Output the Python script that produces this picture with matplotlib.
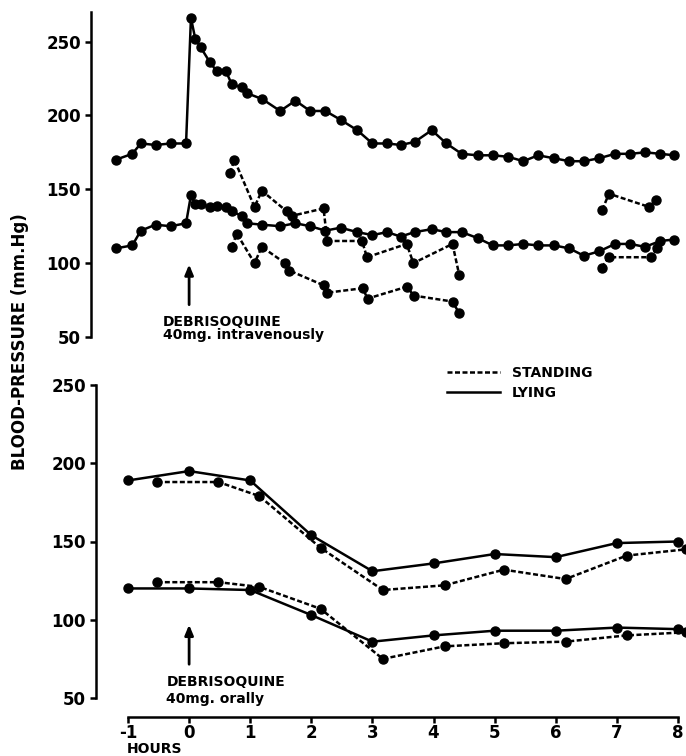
import numpy as np
import matplotlib
matplotlib.use('Agg')
import matplotlib.pyplot as plt
from matplotlib.lines import Line2D
import matplotlib.transforms as mtransforms

plt.rcParams['font.family'] = 'DejaVu Sans'
plt.rcParams['font.weight'] = 'bold'
plt.rcParams['axes.unicode_minus'] = False

# ---- top panel: debrisoquine intravenously (hours) ----
iv_time = [-1.2, -0.93, -0.79, -0.55, -0.3, -0.05, 0.03, 0.1, 0.19, 0.34, 0.45, 0.6,
           0.7, 0.86, 0.95, 1.2, 1.49, 1.74, 1.98, 2.23, 2.48, 2.75, 3.0, 3.24, 3.46,
           3.69, 3.97, 4.21, 4.46, 4.72, 4.97, 5.22, 5.47, 5.71, 5.97, 6.22, 6.46, 6.71,
           6.97, 7.22, 7.46, 7.71, 7.94]
iv_lying_sys = [170, 174, 181, 180, 181, 181, 266, 252, 246, 236, 230, 230, 221, 219, 215,
                211, 203, 210, 203, 203, 197, 190, 181, 181, 180, 182, 190, 181, 174, 173,
                173, 172, 169, 173, 171, 169, 169, 171, 174, 174, 175, 174, 173]
iv_lying_dia = [110, 112, 122, 126, 125, 127, 146, 140, 140, 138, 139, 138, 135, 132, 127,
                126, 125, 127, 125, 122, 124, 121, 119, 121, 118, 121, 123, 121, 121, 117,
                112, 112, 113, 112, 112, 110, 105, 108, 113, 113, 111, 115, 116]

iv_stand_sys_t = [0.67, 0.74, 1.07, 1.19, 1.6, 1.68, 2.2, 2.26, 2.83, 2.91, 3.56, 3.67, 4.31, 4.42]
iv_stand_sys = [161, 170, 138, 149, 135, 132, 137, 115, 115, 104, 113, 100, 113, 92]
iv_stand_dia_t = [0.7, 0.78, 1.07, 1.19, 1.57, 1.64, 2.2, 2.26, 2.84, 2.92, 3.56, 3.68, 4.31, 4.42]
iv_stand_dia = [111, 120, 100, 111, 100, 95, 85, 80, 83, 76, 84, 78, 74, 66]

iv_late_sys_t = [6.76, 6.87, 7.53, 7.64]
iv_late_sys = [136, 147, 138, 143]
iv_late_dia_t = [6.75, 6.87, 7.55, 7.66]
iv_late_dia = [97, 104, 104, 110]

# ---- bottom panel: debrisoquine orally ----
or_lying_t = [-1, 0, 1, 2, 3, 4, 5, 6, 7, 8]
or_lying_sys = [189, 195, 189, 154, 131, 136, 142, 140, 149, 150]
or_lying_dia = [120, 120, 119, 103, 86, 90, 93, 93, 95, 94]
or_stand_t = [-0.52, 0.48, 1.15, 2.15, 3.17, 4.18, 5.15, 6.16, 7.16, 8.13]
or_stand_sys = [188, 188, 179, 146, 119, 122, 132, 126, 141, 145]
or_stand_dia = [124, 124, 121, 107, 75, 83, 85, 86, 90, 92]

W, H = 686, 756
fig = plt.figure(figsize=(W / 100, H / 100), dpi=100)
px = 72 / 100  # points per pixel

lw = 1.8
ms = 6.5
dash = (2, 1)
k = 'black'

def solid(ax, x, y):
    ax.plot(x, y, color=k, lw=lw, marker='o', ms=ms, clip_on=False)

def dashed(ax, x, y):
    ax.plot(x, y, color=k, lw=lw, marker='o', ms=ms, ls='--', dashes=dash, clip_on=False)

# x mapping: -1 at px 128, 8 at px 678
px_per_h = (678 - 128) / 9.0

# top axes
ax1 = fig.add_axes([91 / W, (H - 337) / H, (W - 91) / W, 325 / H])
ax1.set_xlim(-1 - (128 - 91) / px_per_h, 8 + (W - 678) / px_per_h)
ax1.set_ylim(50, 270)
solid(ax1, iv_time, iv_lying_sys)
solid(ax1, iv_time, iv_lying_dia)
dashed(ax1, iv_stand_sys_t, iv_stand_sys)
dashed(ax1, iv_stand_dia_t, iv_stand_dia)
dashed(ax1, iv_late_sys_t, iv_late_sys)
dashed(ax1, iv_late_dia_t, iv_late_dia)

# bottom axes
ax2 = fig.add_axes([96 / W, (H - 698) / H, (W - 96) / W, 313 / H])
ax2.set_xlim(-1 - (128 - 96) / px_per_h, 8 + (W - 678) / px_per_h)
ax2.set_ylim(50, 250)
solid(ax2, or_lying_t, or_lying_sys)
solid(ax2, or_lying_t, or_lying_dia)
dashed(ax2, or_stand_t, or_stand_sys)
dashed(ax2, or_stand_t, or_stand_dia)

for ax in (ax1, ax2):
    ax.patch.set_visible(False)
    for s in ('top', 'right'):
        ax.spines[s].set_visible(False)
    ax.spines['left'].set_linewidth(lw)
    ax.set_yticks([50, 100, 150, 200, 250])
    ax.tick_params(axis='y', direction='out', length=6 * px, width=lw, labelsize=12, pad=3)
    for t in ax.get_yticklabels():
        t.set_fontweight('bold')

ax1.spines['bottom'].set_visible(False)
ax1.set_xticks([])

ax2.spines['bottom'].set_position(('outward', 19 * px))
ax2.spines['bottom'].set_bounds(-1, 8)
ax2.spines['bottom'].set_linewidth(lw)
ax2.set_xticks(range(-1, 9))
ax2.tick_params(axis='x', direction='out', length=6 * px, width=lw, labelsize=12, pad=1)
for t in ax2.get_xticklabels():
    t.set_fontweight('bold')

trans = mtransforms.blended_transform_factory(ax2.transData, ax2.transAxes)
ax2.text(-1.02, -0.162, 'HOURS', transform=trans, ha='left', va='center', fontsize=10,
         fontweight='bold')

fig.text(20 / W, 1 - 342 / H, 'BLOOD-PRESSURE (mm.Hg)', rotation=90, ha='center',
         va='center', fontsize=12, fontweight='bold')

# arrows and annotations
arrow = dict(arrowstyle='-|>,head_length=0.6,head_width=0.25', lw=2, color=k)
ax1.annotate('', xy=(0, 101), xytext=(0, 70), arrowprops=arrow)
ax1.text(-0.43, 60.2, 'DEBRISOQUINE', ha='left', va='center', fontsize=10, fontweight='bold')
ax1.text(-0.43, 51.4, '40mg. intravenously', ha='left', va='center', fontsize=10,
         fontweight='bold')

ax2.annotate('', xy=(0, 98.6), xytext=(0, 69.8), arrowprops=arrow)
ax2.text(-0.37, 60.2, 'DEBRISOQUINE', ha='left', va='center', fontsize=10, fontweight='bold')
ax2.text(-0.37, 49.6, '40mg. orally', ha='left', va='center', fontsize=10, fontweight='bold')

# legend
handles = [Line2D([], [], color=k, lw=lw, ls='--', dashes=dash),
           Line2D([], [], color=k, lw=lw)]
fig.legend(handles, ['STANDING', 'LYING'], loc='upper left',
           bbox_to_anchor=(447 / W, 1 - 366 / H), frameon=False, borderpad=0,
           borderaxespad=0, handlelength=3.8, handletextpad=0.85, labelspacing=0.45,
           prop={'size': 10, 'weight': 'bold'})

fig.savefig('out.png', dpi=100)
